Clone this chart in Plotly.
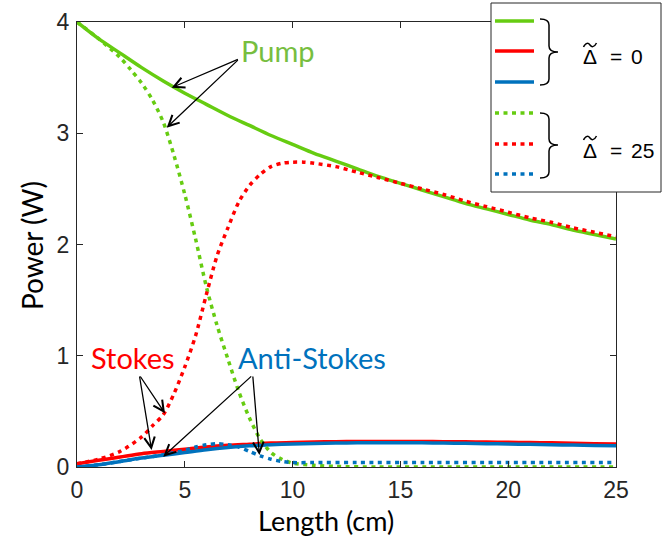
import plotly.graph_objects as go

# ---------------- data ----------------
x_solid = list(range(0, 26))
pump_d0 = [4.00, 3.85, 3.72, 3.59, 3.47, 3.36, 3.26, 3.16, 3.07, 2.98, 2.90, 2.82, 2.75,
           2.68, 2.61, 2.55, 2.49, 2.43, 2.37, 2.32, 2.27, 2.22, 2.18, 2.13, 2.09, 2.05]
stokes_d0 = [0.03, 0.06, 0.09, 0.12, 0.14, 0.16, 0.18, 0.195, 0.205, 0.215, 0.22, 0.225, 0.228,
             0.23, 0.23, 0.23, 0.23, 0.228, 0.226, 0.224, 0.222, 0.22, 0.217, 0.214, 0.21, 0.207]
anti_d0 = [0.0, 0.02, 0.05, 0.08, 0.105, 0.13, 0.155, 0.175, 0.19, 0.20, 0.207, 0.212, 0.215,
           0.217, 0.218, 0.218, 0.217, 0.215, 0.213, 0.21, 0.207, 0.204, 0.20, 0.197, 0.194, 0.19]

x_pump25 = [0, 1, 2, 2.5, 3, 3.5, 4, 4.5, 5, 5.5, 6, 6.5, 7, 7.5, 8, 8.5, 9, 9.5, 10, 11, 12, 14, 17, 20, 25]
pump_d25 = [4.00, 3.85, 3.68, 3.57, 3.45, 3.30, 3.10, 2.80, 2.45, 2.05, 1.62, 1.27, 0.97, 0.68,
            0.44, 0.25, 0.13, 0.07, 0.035, 0.015, 0.005, 0.0, 0.0, 0.0, 0.0]

x_stokes25 = [0, 1, 2, 3, 3.5, 4, 4.5, 5, 5.5, 6, 6.5, 7, 7.5, 8, 8.5, 9, 9.5, 10, 10.5, 11,
              12, 13, 14, 15, 16, 17, 18, 19, 20, 21, 22, 23, 24, 25]
stokes_d25 = [0.03, 0.07, 0.14, 0.27, 0.37, 0.47, 0.66, 0.90, 1.18, 1.55, 1.90, 2.15, 2.38, 2.53,
              2.63, 2.70, 2.73, 2.74, 2.74, 2.73, 2.70, 2.65, 2.60, 2.55, 2.50, 2.45, 2.39, 2.34,
              2.29, 2.24, 2.20, 2.15, 2.11, 2.07]

x_anti25 = [0, 1, 2, 3, 4, 5, 5.5, 6, 6.5, 7, 7.5, 8, 8.5, 9, 9.5, 10, 11, 13, 16, 20, 25]
anti_d25 = [0.0, 0.02, 0.05, 0.08, 0.11, 0.15, 0.18, 0.20, 0.21, 0.20, 0.18, 0.14, 0.10, 0.07,
            0.05, 0.04, 0.04, 0.04, 0.04, 0.04, 0.04]

x_ticks = [0, 5, 10, 15, 20, 25]
y_ticks = [0, 1, 2, 3, 4]
legend_values = ["0", "25"]

GREEN = "#66CC11"
RED = "#FF0000"
BLUE = "#0072BD"
AXC = "#262626"
DOT = "4px,4.5px"
LW = 3.5

# plot area in pixels
L, R, T, B = 77, 616, 22, 467
W, H = 669, 552


def px(xp):
    return (xp - L) / (R - L)


def py(yp):
    return (B - yp) / (B - T)


def path_str(cmds):
    out = []
    for c in cmds:
        if isinstance(c, str):
            out.append(c)
        else:
            out.append("{:.5f},{:.5f}".format(px(c[0]), py(c[1])))
    return " ".join(out)


fig = go.Figure()
series = [
    (x_solid, pump_d0, GREEN, "solid"),
    (x_solid, stokes_d0, RED, "solid"),
    (x_solid, anti_d0, BLUE, "solid"),
    (x_pump25, pump_d25, GREEN, DOT),
    (x_stokes25, stokes_d25, RED, DOT),
    (x_anti25, anti_d25, BLUE, DOT),
]
for xs, ys, c, d in series:
    fig.add_trace(go.Scatter(x=xs, y=ys, mode="lines",
                             line=dict(color=c, width=LW, dash=d, shape="spline", smoothing=0.8),
                             showlegend=False, hoverinfo="skip"))

shapes = []
# legend box
shapes.append(dict(type="rect", xref="paper", yref="paper", x0=px(491), x1=px(661), y0=py(192), y1=py(3),
                   fillcolor="white", line=dict(color=AXC, width=1), layer="above"))
leg = [(21, GREEN, "solid"), (51, RED, "solid"), (82, BLUE, "solid"),
       (113, GREEN, DOT), (144, RED, DOT), (174, BLUE, DOT)]
for yy, c, d in leg:
    shapes.append(dict(type="line", xref="paper", yref="paper", x0=px(495), x1=px(534), y0=py(yy), y1=py(yy),
                       line=dict(color=c, width=LW, dash=d), layer="above"))


def brace(top, tip, bot):
    x0, xc, xt = 540, 549, 558
    s = path_str(["M", (x0, top), "Q", (xc, top), (xc, top + 6), "L", (xc, tip - 6),
                  "Q", (xc, tip), (xt, tip), "Q", (xc, tip), (xc, tip + 6),
                  "L", (xc, bot - 6), "Q", (xc, bot), (x0, bot)])
    return dict(type="path", xref="paper", yref="paper", path=s, line=dict(color="black", width=1.5), layer="above")


def tilde(yc):
    s = path_str(["M", (583.5, yc + 2), "C", (586, yc - 3), (588.5, yc - 2), (590, yc),
                  "C", (591.5, yc + 2), (594, yc + 3), (596.5, yc - 2)])
    return dict(type="path", xref="paper", yref="paper", path=s, line=dict(color="black", width=1.5), layer="above")


shapes.append(brace(19, 52, 85))
shapes.append(brace(113, 145, 178))
shapes.append(tilde(45))
shapes.append(tilde(138))

ann = []
TXTF = "Lato, Open Sans, sans-serif"
ann.append(dict(x=9.33, y=3.74, xref="x", yref="y", text="Pump", showarrow=False,
                font=dict(family=TXTF, size=29, color="#77BE3F")))
ann.append(dict(x=2.6, y=0.98, xref="x", yref="y", text="Stokes", showarrow=False,
                font=dict(family=TXTF, size=29, color=RED)))
ann.append(dict(x=10.88, y=0.98, xref="x", yref="y", text="Anti-Stokes", showarrow=False,
                font=dict(family=TXTF, size=29, color=BLUE)))
arrows = [
    ((7.53, 3.67), (4.39, 3.41)), ((7.53, 3.67), (4.16, 3.05)),
    ((2.89, 0.827), (3.46, 0.153)), ((2.89, 0.827), (4.08, 0.483)),
    ((8.15, 0.827), (4.00, 0.093)), ((8.15, 0.827), (8.46, 0.108)),
]
for (ax, ay), (xx, yy) in arrows:
    ann.append(dict(x=xx, y=yy, ax=ax, ay=ay, xref="x", yref="y", axref="x", ayref="y",
                    text="", showarrow=True, arrowhead=5, arrowsize=1.6, arrowwidth=1.3,
                    arrowcolor="black", standoff=0, startstandoff=0))

LEGF = dict(family="Liberation Sans, Arial", size=21, color="black")
for yc, lab in zip([57, 150], legend_values):
    ann.append(dict(x=px(580.5), y=py(yc), xref="paper", yref="paper", text="Δ", showarrow=False,
                    xanchor="left", yanchor="middle", font=LEGF))
    ann.append(dict(x=px(607.5), y=py(yc), xref="paper", yref="paper", text="=", showarrow=False,
                    xanchor="left", yanchor="middle", font=LEGF))
    ann.append(dict(x=px(628.5), y=py(yc), xref="paper", yref="paper", text=lab, showarrow=False,
                    xanchor="left", yanchor="middle", font=LEGF))

# axis titles
ann.append(dict(x=px(326), y=py(520), xref="paper", yref="paper", text="Length (cm)", showarrow=False,
                xanchor="center", yanchor="middle", font=dict(family=TXTF, size=27, color="black")))
ann.append(dict(x=px(32), y=py(246), xref="paper", yref="paper", text="Power (W)", showarrow=False,
                textangle=-90, xanchor="center", yanchor="middle",
                font=dict(family=TXTF, size=28, color="black")))

fig.update_layout(
    width=W, height=H,
    margin=dict(l=L, r=W - R, t=T, b=H - B, pad=0, autoexpand=False),
    paper_bgcolor="white", plot_bgcolor="white",
    shapes=shapes, annotations=ann, showlegend=False,
    xaxis=dict(range=[0, 25], tickvals=x_ticks, ticktext=[str(v) for v in x_ticks],
               ticks="inside", ticklen=6, tickcolor=AXC, showline=True, linecolor=AXC, linewidth=1,
               mirror="ticks", showgrid=False, zeroline=False, automargin=False, ticklabelstandoff=2,
               tickfont=dict(family="Liberation Sans, Arial", size=23, color=AXC)),
    yaxis=dict(range=[0, 4], tickvals=y_ticks, ticktext=[str(v) for v in y_ticks],
               ticks="inside", ticklen=6, tickcolor=AXC, showline=True, linecolor=AXC, linewidth=1,
               mirror="ticks", showgrid=False, zeroline=False, automargin=False, ticklabelstandoff=2,
               tickfont=dict(family="Liberation Sans, Arial", size=23, color=AXC)),
)

fig.write_html("out.html", config={"displayModeBar": False},
               post_script="document.body.style.margin='0px';document.body.style.overflow='hidden';")
